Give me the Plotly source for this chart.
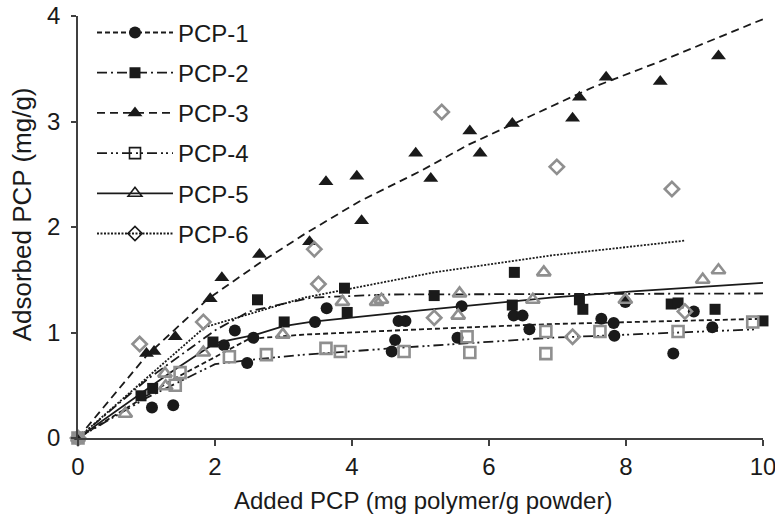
import plotly.graph_objects as go

# ---- measured adsorption points (x: added PCP, y: adsorbed PCP) ----
pcp1_x = [0, 1.08, 1.39, 2.13, 2.29, 2.47, 2.56, 3.46, 3.63, 4.58, 4.63, 4.68, 4.78, 5.54, 5.60,
          6.36, 6.49, 6.59, 7.64, 7.82, 7.83, 7.99, 8.69, 8.99, 9.26]
pcp1_y = [0, 0.29, 0.31, 0.88, 1.02, 0.71, 0.95, 1.10, 1.23, 0.82, 0.93, 1.11, 1.11, 0.95, 1.25,
          1.16, 1.16, 1.03, 1.13, 1.09, 0.97, 1.29, 0.80, 1.20, 1.05]

pcp2_x = [0, 0.92, 1.09, 1.97, 2.62, 3.01, 3.89, 3.93, 5.20, 6.34, 6.37, 7.32, 7.37, 8.66, 8.76, 9.30, 10.0]
pcp2_y = [0, 0.40, 0.47, 0.91, 1.31, 1.10, 1.42, 1.19, 1.35, 1.26, 1.57, 1.31, 1.22, 1.27, 1.28, 1.22, 1.11]

pcp3_x = [0, 1.00, 1.11, 1.42, 1.93, 2.10, 2.65, 3.38, 3.62, 4.07, 4.14, 4.93, 5.15, 5.72, 5.87,
          6.34, 7.22, 7.32, 7.71, 8.50, 9.35]
pcp3_y = [0, 0.80, 0.82, 0.96, 1.32, 1.52, 1.74, 1.86, 2.43, 2.48, 2.06, 2.70, 2.46, 2.91, 2.70,
          2.98, 3.03, 3.23, 3.42, 3.38, 3.62]

pcp4_x = [0, 1.42, 1.49, 2.21, 2.75, 3.62, 3.83, 4.76, 5.68, 5.72, 6.83, 6.83, 7.62, 8.76, 9.85]
pcp4_y = [0, 0.50, 0.62, 0.77, 0.79, 0.85, 0.82, 0.82, 0.96, 0.81, 1.01, 0.80, 1.01, 1.01, 1.10]

pcp5_x = [0, 0.69, 1.27, 1.28, 1.83, 2.99, 3.86, 4.36, 4.43, 5.55, 5.57, 6.64, 6.80, 7.99, 9.12, 9.35]
pcp5_y = [0, 0.23, 0.61, 0.49, 0.81, 0.98, 1.29, 1.29, 1.31, 1.16, 1.37, 1.31, 1.57, 1.31, 1.50, 1.59]

pcp6_x = [0, 0.90, 1.83, 3.45, 3.51, 5.20, 5.31, 6.99, 7.22, 8.67, 8.86]
pcp6_y = [0, 0.89, 1.10, 1.79, 1.46, 1.14, 3.09, 2.57, 0.96, 2.36, 1.20]

# ---- fitted isotherm curves ----
fit1_x = [0, 0.5, 1.4, 2.5, 3.3, 5.0, 6.9, 10.0]
fit1_y = [0, 0.20, 0.56, 0.94, 0.98, 1.03, 1.08, 1.13]

fit2_x = [0, 1.0, 2.0, 2.5, 3.4, 4.5, 10.0]
fit2_y = [0, 0.55, 1.02, 1.20, 1.33, 1.36, 1.37]

fit3_x = [0, 1.0, 1.9, 2.7, 3.3, 4.1, 5.0, 5.7, 6.6, 7.5, 8.5, 10.0]
fit3_y = [0, 0.78, 1.32, 1.68, 1.93, 2.24, 2.53, 2.78, 3.05, 3.32, 3.57, 3.97]

fit4_x = [0, 1.0, 2.0, 2.5, 3.3, 4.8, 6.9, 9.9]
fit4_y = [0, 0.38, 0.70, 0.74, 0.79, 0.86, 0.95, 1.03]

fit5_x = [0, 1.35, 2.0, 2.6, 3.0, 3.4, 5.0, 6.9, 8.1, 10.0]
fit5_y = [0, 0.62, 0.90, 0.98, 1.06, 1.10, 1.21, 1.33, 1.39, 1.47]

fit6_x = [0, 1.85, 3.3, 5.2, 6.9, 8.85]
fit6_y = [0, 1.05, 1.33, 1.57, 1.73, 1.87]

names = ["PCP-1", "PCP-2", "PCP-3", "PCP-4", "PCP-5", "PCP-6"]
tick_x = [0, 2, 4, 6, 8, 10]
tick_y = [0, 1, 2, 3, 4]
x_title = "Added PCP (mg polymer/g powder)"
y_title = "Adsorbed PCP (mg/g)"

BLACK = "#1a1a1a"
GREY = "#8f8f8f"
FONT = "Liberation Sans, Arial, sans-serif"

points = [(pcp1_x, pcp1_y), (pcp2_x, pcp2_y), (pcp3_x, pcp3_y),
          (pcp4_x, pcp4_y), (pcp5_x, pcp5_y), (pcp6_x, pcp6_y)]
fits = [(fit1_x, fit1_y), (fit2_x, fit2_y), (fit3_x, fit3_y),
        (fit4_x, fit4_y), (fit5_x, fit5_y), (fit6_x, fit6_y)]

dashes = ["5px,3px", "10px,4px,2px,4px", "8px,5px",
          "10px,4px,2px,3px,2px,4px", "solid", "2px,1.5px"]

symbols = ["circle", "square", "triangle-up", "square-open", "triangle-up-open", "diamond-open"]
sizes = [12, 11, 13, 11, 12, 11]
colors = [BLACK, BLACK, BLACK, GREY, GREY, GREY]

fig = go.Figure()

# fitted curves underneath the points
for (fx, fy), dash in zip(fits, dashes):
    fig.add_trace(go.Scatter(x=fx, y=fy, mode="lines", showlegend=False, hoverinfo="skip",
                             line=dict(color=BLACK, width=1.8, dash=dash)))

# data points
for (px, py), sym, sz, col in zip(points, symbols, sizes, colors):
    open_sym = sym.endswith("open")
    fig.add_trace(go.Scatter(
        x=px, y=py, mode="markers", showlegend=False, cliponaxis=False,
        marker=dict(symbol=sym, size=sz, color=col,
                    line=dict(color=col, width=2.6 if open_sym else 0))))

# legend entries (line style + marker)
for i, name in enumerate(names):
    open_sym = symbols[i].endswith("open")
    fig.add_trace(go.Scatter(
        x=[None], y=[None], mode="lines+markers", name=name, legendgroup=name,
        line=dict(color=BLACK, width=1.8, dash=dashes[i]),
        marker=dict(symbol=symbols[i], size=sizes[i], color=BLACK,
                    line=dict(color=BLACK, width=1.6 if open_sym else 0))))

axis_common = dict(ticks="outside", tickwidth=1.5, tickcolor="#404040",
                   showline=True, linecolor="#404040", linewidth=1.5,
                   showgrid=False, zeroline=False,
                   tickfont=dict(size=24, family=FONT, color=BLACK))

fig.update_layout(
    width=775, height=519,
    margin=dict(l=78, r=12, t=16, b=81, autoexpand=False),
    paper_bgcolor="white", plot_bgcolor="white",
    font=dict(family=FONT, size=24, color=BLACK),
    legend=dict(xref="container", yref="container", x=0.1187, y=0.98,
                xanchor="left", yanchor="top",
                bgcolor="rgba(0,0,0,0)", itemwidth=76, tracegroupgap=6,
                font=dict(size=24, family=FONT, color=BLACK)),
    xaxis=dict(range=[0, 10], tickvals=tick_x, ticklen=6, ticklabeloverflow="allow",
               **axis_common),
    yaxis=dict(range=[0, 4], tickvals=tick_y, ticklen=5, ticklabelstandoff=6,
               **axis_common),
    annotations=[
        dict(text=x_title, xref="paper", yref="paper", x=0.503, y=0,
             xanchor="center", yanchor="middle", yshift=-62, showarrow=False,
             font=dict(size=24, family=FONT, color=BLACK)),
        dict(text=y_title, xref="paper", yref="paper", x=0, y=0.53,
             xanchor="center", yanchor="middle", xshift=-56, textangle=-90,
             showarrow=False, font=dict(size=26, family=FONT, color=BLACK)),
    ],
)

fig.write_html("out.html")
